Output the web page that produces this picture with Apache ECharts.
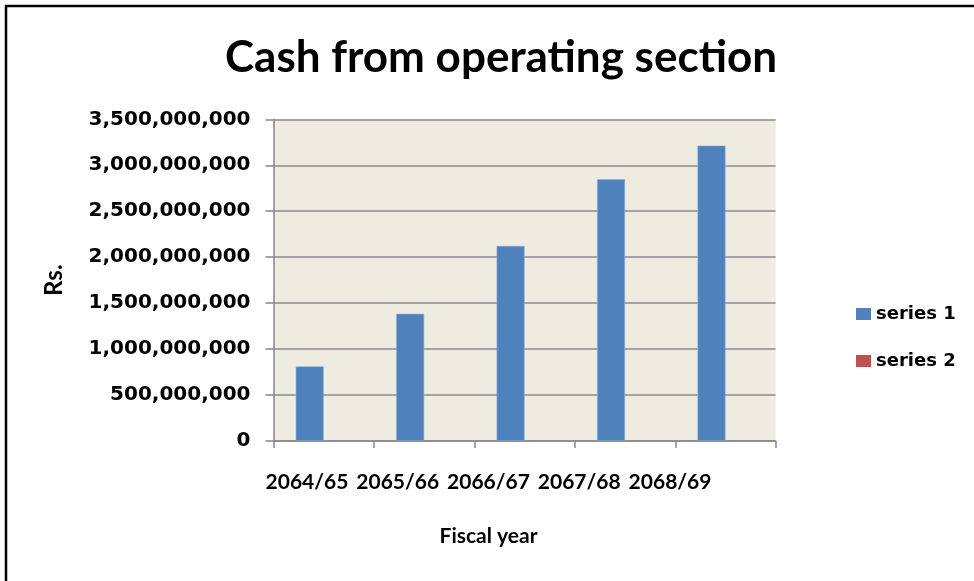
<!DOCTYPE html>
<html>
<head>
<meta charset="utf-8">
<script src="https://cdn.jsdelivr.net/npm/echarts@6/dist/echarts.min.js"></script>
<style>
  html, body { margin: 0; padding: 0; background: #ffffff; }
  #chart { width: 974px; height: 581px; }
</style>
</head>
<body>
<div id="chart"></div>
<script>
// Fiscal years on the category axis
const categories = ['2064/65', '2065/66', '2066/67', '2067/68', '2068/69'];
// Cash from operating activities (Rs.)
const series1 = [812000000, 1384000000, 2123000000, 2848000000, 3214000000];
// Second series carries no values
const series2 = [null, null, null, null, null];
// Value-axis range
const yMin = 0;
const yMax = 3500000000;
const yStep = 500000000;

const chart = echarts.init(document.getElementById('chart'), null, { renderer: 'canvas' });

const fmt = v => Number(v).toLocaleString('en-US');

chart.setOption({
  backgroundColor: '#ffffff',
  animation: false,
  title: {
    text: 'Cash from operating section',
    left: 496,
    textAlign: 'center',
    top: 31,
    textStyle: { fontFamily: 'Lato', fontWeight: 'bold', fontSize: 44, color: '#000000' }
  },
  legend: {
    orient: 'vertical',
    left: 856,
    top: 305,
    padding: 0,
    itemWidth: 15,
    itemHeight: 12,
    itemGap: 29,
    itemStyle: { borderWidth: 0 },
    icon: 'rect',
    textStyle: { fontFamily: 'DejaVu Sans', fontWeight: 'bold', fontSize: 18, color: '#000000', padding: [0, 0, 0, 0] },
    data: ['series 1', 'series 2']
  },
  graphic: [{
    type: 'polyline',
    shape: { points: [[6, 581], [6, 6], [974, 6]] },
    style: { stroke: '#000000', lineWidth: 2.5, fill: null }
  }],
  grid: [
    // plotting area
    { left: 273.5, right: 198.3, top: 119.3, bottom: 140, show: true, backgroundColor: '#EEECE1', borderWidth: 0 },
    // carries the category labels and the axis title
    { left: 261.6, right: 258.6, top: 119.3, bottom: 140, show: false }
  ],
  xAxis: [
    {
      type: 'category',
      gridIndex: 0,
      data: categories,
      axisLine: { lineStyle: { color: '#868686', width: 1.5 } },
      axisTick: { show: true, length: 7, lineStyle: { color: '#868686', width: 1.5 } },
      axisLabel: { show: false }
    },
    {
      type: 'category',
      gridIndex: 1,
      data: categories,
      axisLine: { show: false },
      axisTick: { show: false },
      axisLabel: {
        interval: 0,
        hideOverlap: false,
        margin: 31,
        fontFamily: 'Lato', fontWeight: 'bold', fontSize: 21, color: '#000000'
      },
      name: 'Fiscal year',
      nameLocation: 'middle',
      nameGap: 85,
      nameTextStyle: { fontFamily: 'Lato', fontWeight: 'bold', fontSize: 21, color: '#000000' }
    }
  ],
  yAxis: [
    {
      type: 'value',
      gridIndex: 0,
      min: yMin,
      max: yMax,
      interval: yStep,
      axisLine: { show: true, lineStyle: { color: '#868686', width: 1.5 } },
      axisTick: { show: true, length: 8, lineStyle: { color: '#868686', width: 1.5 } },
      splitLine: { show: true, lineStyle: { color: '#8c8c8c', width: 1.5 } },
      axisLabel: {
        margin: 23,
        formatter: fmt,
        fontFamily: 'DejaVu Sans', fontWeight: 'bold', fontSize: 20, color: '#000000'
      },
      name: 'Rs.',
      nameLocation: 'middle',
      nameGap: 207,
      nameRotate: 90,
      nameTextStyle: { fontFamily: 'Lato', fontWeight: 'bold', fontSize: 24, color: '#000000' }
    },
    {
      type: 'value',
      gridIndex: 1,
      min: yMin,
      max: yMax,
      show: false
    }
  ],
  series: [
    {
      name: 'series 1',
      type: 'bar',
      xAxisIndex: 0,
      yAxisIndex: 0,
      data: series1,
      barWidth: 28,
      barGap: '0%',
      itemStyle: { color: '#4F81BD', borderColor: '#8fb0d8', borderWidth: 0.6 }
    },
    {
      name: 'series 2',
      type: 'bar',
      xAxisIndex: 0,
      yAxisIndex: 0,
      data: series2,
      barWidth: 28,
      barGap: '0%',
      itemStyle: { color: '#C0504D' }
    }
  ]
});
</script>
</body>
</html>
